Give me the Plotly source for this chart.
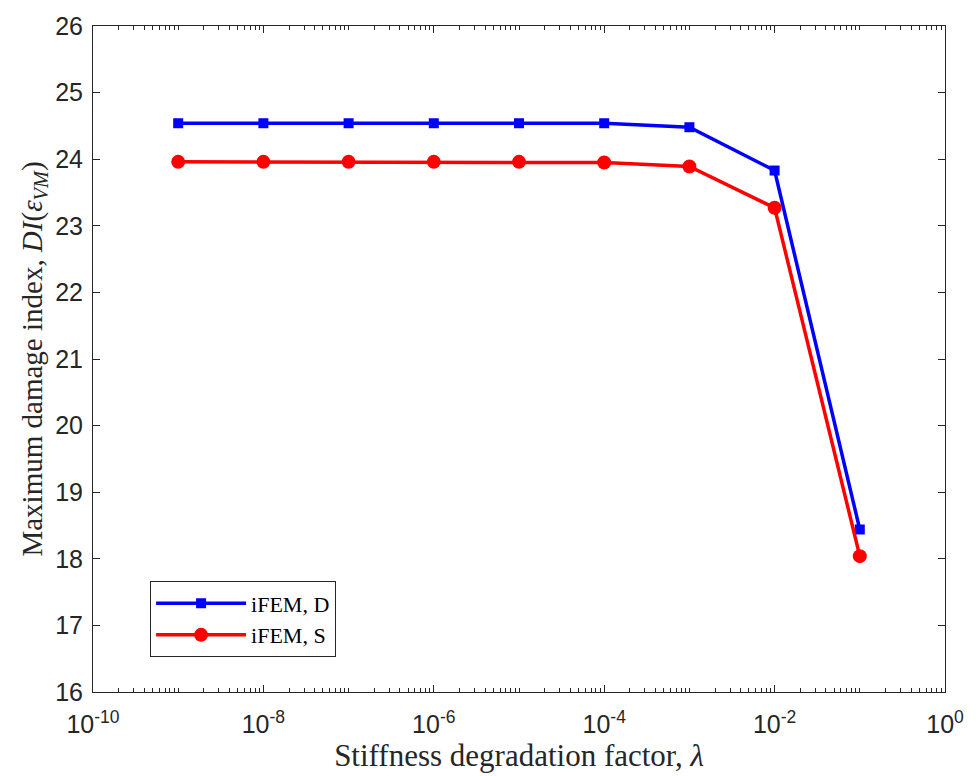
import plotly.graph_objects as go

x_vals = [1e-9, 1e-8, 1e-7, 1e-6, 1e-5, 1e-4, 1e-3, 1e-2, 1e-1]
ifem_d = [24.54, 24.54, 24.54, 24.54, 24.54, 24.54, 24.48, 23.83, 18.44]
ifem_s = [23.96, 23.96, 23.96, 23.96, 23.96, 23.95, 23.89, 23.27, 18.04]
x_tickvals = [1e-10, 1e-8, 1e-6, 1e-4, 1e-2, 1e0]
x_ticktext = ["10<sup>-10</sup>", "10<sup>-8</sup>", "10<sup>-6</sup>", "10<sup>-4</sup>", "10<sup>-2</sup>", "10<sup>0</sup>"]
y_tickvals = list(range(16, 27))

fig = go.Figure()
fig.add_trace(go.Scatter(x=x_vals, y=ifem_d, mode="lines+markers", name="iFEM, D",
                         line=dict(color="#0000ff", width=3.5),
                         marker=dict(symbol="square", size=10, color="#0000ff")))
fig.add_trace(go.Scatter(x=x_vals, y=ifem_s, mode="lines+markers", name="iFEM, S",
                         line=dict(color="#ff0000", width=3.5),
                         marker=dict(symbol="circle", size=14, color="#ff0000")))

axis_common = dict(showline=True, linecolor="#262626", linewidth=1, mirror="ticks",
                   ticks="inside", tickcolor="#262626", showgrid=False, zeroline=False,
                   tickfont=dict(family="Liberation Sans, Arial", size=25, color="#262626"))

fig.update_xaxes(type="log", range=[-10, 0], tickmode="array", tickvals=x_tickvals, ticktext=x_ticktext,
                 ticklen=7, ticklabelstandoff=10,
                 minor=dict(ticks="inside", ticklen=4, tickcolor="#262626", dtick="D1", showgrid=False),
                 title=dict(text="Stiffness degradation factor, <i>λ</i>",
                            font=dict(family="Liberation Serif, Times New Roman", size=31, color="#262626"),
                            standoff=2),
                 **axis_common)
fig.update_yaxes(range=[16, 26], tickmode="array", tickvals=y_tickvals, ticklen=7, ticklabelstandoff=4,
                 title=dict(text="Maximum damage index, <i>DI</i>(<i>ε</i><sub><i>VM</i></sub>)",
                            font=dict(family="Liberation Serif, Times New Roman", size=29, color="#262626"),
                            standoff=4),
                 **axis_common)

fig.update_layout(width=976, height=776, plot_bgcolor="white", paper_bgcolor="white",
                  margin=dict(l=93, r=29, t=16, b=84),
                  legend=dict(x=0.067, y=0.166, xanchor="left", yanchor="top",
                              bgcolor="white", bordercolor="#262626", borderwidth=1,
                              font=dict(family="Liberation Serif, Times New Roman", size=22, color="#000"),
                              tracegroupgap=0, itemwidth=90),
                  showlegend=True)

fig.write_html("out.html")
